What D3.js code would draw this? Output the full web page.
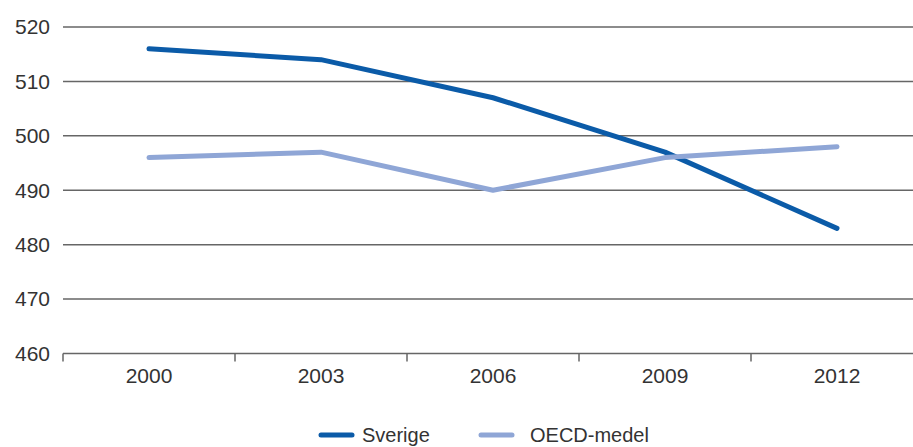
<!DOCTYPE html>
<html>
<head>
<meta charset="utf-8">
<script src="https://cdn.jsdelivr.net/npm/d3@7"></script>
<style>
  body { margin: 0; background: #fff; }
  svg { display: block; font-family: "Liberation Sans", Arial, sans-serif; }
</style>
</head>
<body>
<svg id="chart" width="913" height="447"></svg>
<script>
const years = ["2000", "2003", "2006", "2009", "2012"];
const sverige = [516, 514, 507, 497, 483];
const oecd = [496, 497, 490, 496, 498];
const yTicks = [460, 470, 480, 490, 500, 510, 520];
const seriesNames = ["Sverige", "OECD-medel"];
const seriesColors = ["#0b5ba8", "#8fa6d6"];

const svg = d3.select("#chart");
const margin = {top: 27, left: 63, bottom: 93};

const x = d3.scaleBand().domain(years).range([margin.left, margin.left + 860]);
const y = d3.scaleLinear().domain([460, 520]).range([353.5, 27]);

// grid lines
svg.append("g")
  .selectAll("line")
  .data(yTicks.filter(d => d > 460))
  .enter().append("line")
  .attr("x1", margin.left)
  .attr("x2", 913)
  .attr("y1", d => y(d))
  .attr("y2", d => y(d))
  .style("stroke", "#666")
  .style("stroke-width", 1.5);

// y labels
svg.append("g")
  .selectAll("text")
  .data(yTicks)
  .enter().append("text")
  .attr("x", 50)
  .attr("y", d => y(d))
  .attr("dy", "0.35em")
  .style("text-anchor", "end")
  .style("font-size", "21px")
  .style("fill", "#333")
  .text(d => d);

// x axis
const xAxis = svg.append("g")
  .attr("transform", `translate(0, ${y(460)})`)
  .call(d3.axisBottom(x).tickSize(0).tickPadding(15));
xAxis.select(".domain").remove();
xAxis.selectAll("text")
  .style("font-size", "21px")
  .style("font-family", "Liberation Sans, Arial, sans-serif")
  .style("fill", "#333");

const bounds = [margin.left].concat(years.map(d => x(d) + x.bandwidth()));
xAxis.append("path")
  .attr("d", `M${margin.left},0H${margin.left + 860}`)
  .style("fill", "none")
  .style("stroke", "#666")
  .style("stroke-width", 1.5);
xAxis.selectAll(".sep")
  .data(bounds)
  .enter().append("line")
  .attr("class", "sep")
  .attr("x1", d => d).attr("x2", d => d)
  .attr("y1", 0).attr("y2", 8)
  .style("stroke", "#666")
  .style("stroke-width", 1.5);

// lines
const line = d3.line()
  .x((d, i) => x(years[i]) + x.bandwidth() / 2)
  .y(d => y(d));

[sverige, oecd].forEach((s, i) => {
  svg.append("path")
    .attr("d", line(s))
    .style("fill", "none")
    .style("stroke", seriesColors[i])
    .style("stroke-width", 5)
    .style("stroke-linejoin", "round")
    .style("stroke-linecap", "round");
});

// legend
const legendX = [321, 481];
const legendTextX = [41, 49];
seriesNames.forEach((name, i) => {
  const g = svg.append("g").attr("transform", `translate(${legendX[i]}, 435)`);
  g.append("line")
    .attr("x1", 0).attr("x2", 31)
    .attr("y1", 0).attr("y2", 0)
    .style("stroke", seriesColors[i])
    .style("stroke-width", 5)
    .style("stroke-linecap", "round");
  g.append("text")
    .attr("x", legendTextX[i])
    .attr("y", 0)
    .attr("dy", "0.35em")
    .style("font-size", "20px")
    .style("fill", "#333")
    .text(name);
});
</script>
</body>
</html>
